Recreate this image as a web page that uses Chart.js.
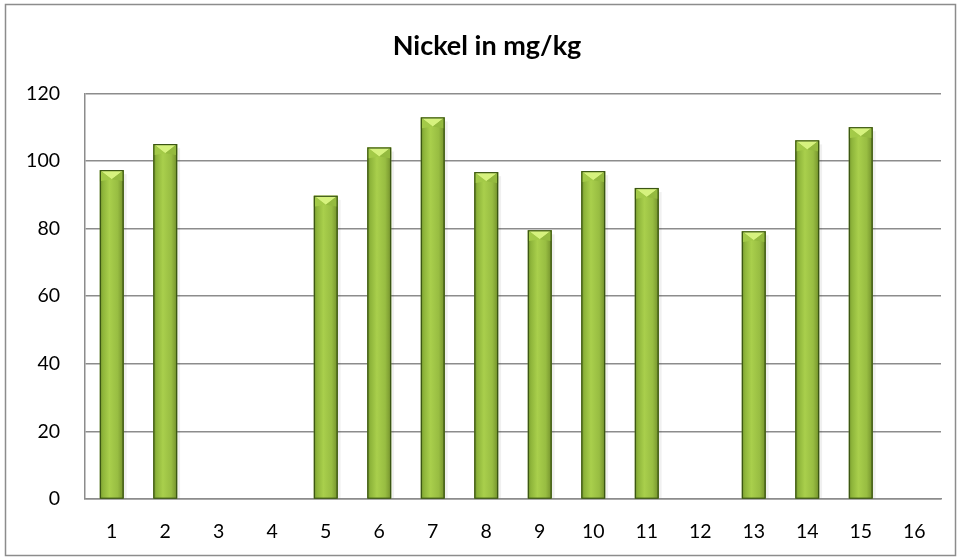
<!DOCTYPE html>
<html>
<head>
<meta charset="utf-8">
<script src="https://cdn.jsdelivr.net/npm/chart.js@4.4.1/dist/chart.umd.min.js"></script>
<style>
  html, body { margin: 0; padding: 0; background: #fff; }
  #wrap { width: 958px; height: 560px; position: relative; }
</style>
</head>
<body>
<div id="wrap"><canvas id="nickel" width="958" height="560"></canvas></div>
<script>
const categories = ["1", "2", "3", "4", "5", "6", "7", "8", "9", "10", "11", "12", "13", "14", "15", "16"];
const nickelValues = [97.3, 105, null, null, 89.7, 104, 112.9, 96.7, 79.5, 97, 92, null, 79.2, 106.1, 110, null];
const yTicks = [0, 20, 40, 60, 80, 100, 120];

const FONT = "Lato, 'Open Sans', sans-serif";

// outer frame like the office chart border
const framePlugin = {
  id: "frame",
  afterLayout(chart) {
    // title sits a little right of the canvas centre in the original
    if (chart.titleBlock) chart.titleBlock.left = 33;
  },
  beforeDraw(chart) {
    const ctx = chart.ctx;
    ctx.save();
    ctx.fillStyle = "#fff";
    ctx.fillRect(0, 0, chart.width, chart.height);
    ctx.strokeStyle = "#8c8c8c";
    ctx.lineWidth = 1.5;
    ctx.strokeRect(5.5, 4.5, chart.width - 8, chart.height - 9);
    ctx.restore();
  }
};

// bevelled 3d look on top of the plain bars
const bevelPlugin = {
  id: "bevel",
  afterDatasetsDraw(chart) {
    const ctx = chart.ctx;
    const meta = chart.getDatasetMeta(0);
    meta.data.forEach((bar, i) => {
      if (nickelValues[i] == null) return;
      const { x, y, base, width } = bar.getProps(["x", "y", "base", "width"], true);
      const l = x - width / 2, r = x + width / 2;
      ctx.save();
      // soft shadow to the right
      ctx.fillStyle = "rgba(0,0,0,0.06)";
      ctx.fillRect(r, y + 4, 3, base - y - 4);
      const g = ctx.createLinearGradient(l, 0, r, 0);
      g.addColorStop(0, "#6f8f2a");
      g.addColorStop(0.12, "#8db43a");
      g.addColorStop(0.4, "#a9cf4c");
      g.addColorStop(0.75, "#98bd42");
      g.addColorStop(0.92, "#7f9f33");
      g.addColorStop(1, "#5c7a20");
      ctx.fillStyle = g;
      ctx.fillRect(l, y, width, base - y);
      // top bevel triangle
      const d = Math.min(width * 0.38, base - y);
      ctx.beginPath();
      ctx.moveTo(l, y);
      ctx.lineTo(r, y);
      ctx.lineTo(x, y + d);
      ctx.closePath();
      ctx.fillStyle = "#d6f27e";
      ctx.fill();
      ctx.beginPath();
      ctx.moveTo(l, y);
      ctx.lineTo(x, y + d);
      ctx.lineTo(l, y + d + 2);
      ctx.closePath();
      ctx.fillStyle = "#a3ca48";
      ctx.fill();
      ctx.beginPath();
      ctx.moveTo(r, y);
      ctx.lineTo(x, y + d);
      ctx.lineTo(r, y + d + 2);
      ctx.closePath();
      ctx.fillStyle = "#94ba3f";
      ctx.fill();
      ctx.strokeStyle = "#3b5514";
      ctx.lineWidth = 1.2;
      ctx.strokeRect(l + 0.5, y + 0.5, width - 1, base - y - 0.5);
      ctx.restore();
    });
  }
};

new Chart(document.getElementById("nickel"), {
  type: "bar",
  data: {
    labels: categories,
    datasets: [{
      label: "Nickel",
      data: nickelValues,
      backgroundColor: "#9bbf45",
      borderWidth: 0,
      barPercentage: 0.74,
      categoryPercentage: 0.6
    }]
  },
  options: {
    responsive: false,
    animation: false,
    devicePixelRatio: 1,
    layout: { padding: { top: 0, right: 17, bottom: 0, left: 0 } },
    plugins: {
      legend: { display: false },
      tooltip: { enabled: false },
      title: {
        display: true,
        text: "Nickel in mg/kg",
        color: "#000",
        font: { family: FONT, size: 27, weight: "bold" },
        padding: { top: 30, bottom: 31 }
      }
    },
    scales: {
      x: {
        grid: { display: false, drawTicks: false },
        border: { display: true, color: "#8c8c8c", width: 1.5 },
        ticks: { color: "#000", font: { family: FONT, size: 19.5 }, padding: 21, autoSkip: false, maxRotation: 0 },
        afterFit(scale) { scale.height = 61; }
      },
      y: {
        min: 0,
        max: 120,
        afterBuildTicks(scale) { scale.ticks = yTicks.map(v => ({ value: v })); },
        grid: { color: "#8c8c8c", lineWidth: 1.5, drawTicks: false },
        border: { display: true, color: "#8c8c8c", width: 1.5 },
        ticks: { color: "#000", font: { family: FONT, size: 19.5 }, padding: 25 },
        afterFit(scale) { scale.width = 85; }
      }
    }
  },
  plugins: [framePlugin, bevelPlugin]
});
</script>
</body>
</html>
